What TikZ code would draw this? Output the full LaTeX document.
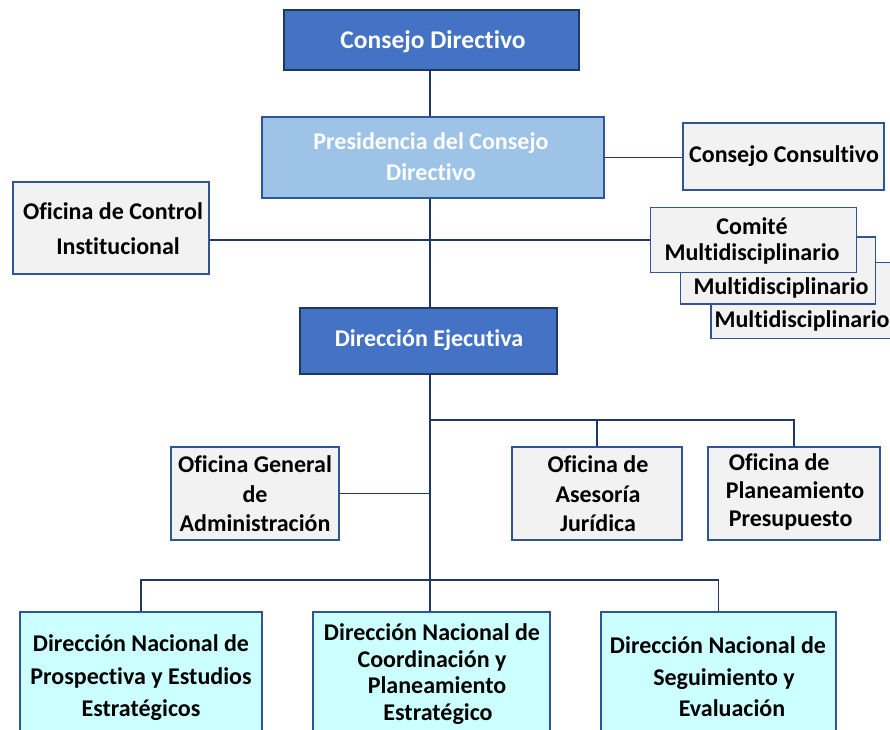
\documentclass[tikz,border=0pt]{standalone}
\usepackage{fontspec}
\setmainfont[Ligatures=NoCommon]{Carlito}
\definecolor{dblue}{HTML}{4472C4}
\definecolor{lblue}{HTML}{9DC3E6}
\definecolor{gfill}{HTML}{F2F2F2}
\definecolor{cfill}{HTML}{CCFFFF}
\definecolor{bcol}{HTML}{2F5597}
\definecolor{lcol}{HTML}{1F3864}
\tikzset{
  box/.style={draw=bcol, line width=1.3pt, rectangle, inner sep=0pt},
  darkbox/.style={box, draw=lcol, fill=dblue},
  lightbox/.style={box, fill=lblue},
  graybox/.style={box, fill=gfill},
  cyanbox/.style={box, fill=cfill},
  txt/.style={inner sep=0pt, align=center, font=\bfseries\fontsize{24}{26}\selectfont, text=black},
  wtxt/.style={txt, text=white},
  conn/.style={draw=lcol, line width=1.3pt},
}
\begin{document}
\begin{tikzpicture}[x=1pt,y=-1pt]
\useasboundingbox (0,0) rectangle (890,729);
\clip (0,0) rectangle (890,729);
\fill[white] (0,0) rectangle (890,729);
\coordinate (t) at (430,0);
% top
\node[darkbox, minimum width=295pt, minimum height=60pt] (cd) at (431.5,40) {};
\node[wtxt, font=\bfseries\fontsize{25.5}{28}\selectfont] (cdt) at (433,42) {Consejo Directivo};
\node[lightbox, minimum width=342pt, minimum height=81pt] (pres) at (433,157.5) {};
\node[wtxt, font=\bfseries\fontsize{24}{31}\selectfont] (prest) at (431,157) {Presidencia del Consejo\\Directivo};
\node[graybox, minimum width=201pt, minimum height=67pt] (cc) at (783.5,156.5) {};
\node[txt] (cct) at (784,156) {Consejo Consultivo};
\node[graybox, minimum width=196pt, minimum height=92pt] (ctrl) at (111,228) {};
\node[txt, font=\bfseries\fontsize{24}{35}\selectfont] (ctrlt) at (113,229) {Oficina de Control\\\hspace*{10pt}Institucional};
% comite stack
\node[graybox, minimum width=194pt, minimum height=76pt] (com3) at (808,300.5) {};
\node[txt] (com3t) at (802,321) {Multidisciplinario};
\node[graybox, minimum width=195pt, minimum height=67pt] (com2) at (778,270.5) {};
\node[txt] (com2t) at (781,288) {Multidisciplinario};
\node[graybox, minimum width=206pt, minimum height=65pt] (com1) at (753.5,240) {};
\node[txt] (com1t) at (752,241) {Comité\\Multidisciplinario};
% ejecutiva
\node[darkbox, minimum width=257pt, minimum height=66pt] (de) at (428.5,341) {};
\node[wtxt] (det) at (429,340) {Dirección Ejecutiva};
% oficinas
\node[graybox, minimum width=168pt, minimum height=93pt] (oga) at (255,493.5) {};
\node[txt, font=\bfseries\fontsize{24}{29.5}\selectfont] (ogat) at (255,494) {Oficina General\\de\\Administración};
\node[graybox, minimum width=170pt, minimum height=93pt] (ase) at (597,493.5) {};
\node[txt, font=\bfseries\fontsize{24}{29.5}\selectfont] (aset) at (598,494) {Oficina de\\Asesoría\\Jurídica};
\node[graybox, minimum width=172pt, minimum height=93pt] (plan) at (794,493.5) {};
\node[txt, align=left, font=\bfseries\fontsize{24}{28}\selectfont] (plant) at (795,492) {\hspace*{3pt}Oficina de\\Planeamiento\\\hspace*{3pt}Presupuesto};
% direcciones nacionales
\node[cyanbox, minimum width=242pt, minimum height=136pt] (dn1) at (141,680) {};
\node[txt, font=\bfseries\fontsize{24}{32.5}\selectfont] (dn1t) at (141,678) {Dirección Nacional de\\Prospectiva y Estudios\\Estratégicos};
\node[cyanbox, minimum width=237pt, minimum height=136pt] (dn2) at (431.5,680) {};
\node[txt, font=\bfseries\fontsize{24}{26.5}\selectfont] (dn2t) at (432,674) {Dirección Nacional de\\Coordinación y\hspace*{12pt}\\\hspace*{10pt}Planeamiento\\\hspace*{12pt}Estratégico};
\node[cyanbox, minimum width=235pt, minimum height=136pt] (dn3) at (718.5,680) {};
\node[txt, font=\bfseries\fontsize{24}{31.5}\selectfont] (dn3t) at (718,677) {Dirección Nacional de\\\hspace*{12pt}Seguimiento y\\\hspace*{28pt}Evaluación};
% connectors
\coordinate (j1) at (430,420);
\coordinate (j2) at (430,580);
\draw[conn] (t |- cd.south) -- (t |- pres.north);
\draw[conn] (pres.east) -- (pres.east -| cc.west);
\draw[conn] (com1.west -| ctrl.east) -- (com1.west);
\draw[conn] (t |- pres.south) -- (t |- de.north);
\draw[conn] (t |- de.south) -- (j2);
\draw[conn] (j1) -| (ase.north);
\draw[conn] (j1) -| (plan.north);
\draw[conn] (oga.east) -- (oga.east -| t);
\draw[conn] (j2) -| (dn1.north);
\draw[conn] (j2) -| (dn3.north);
\draw[conn] (j2) -- (t |- dn2.north);
\end{tikzpicture}
\end{document}
